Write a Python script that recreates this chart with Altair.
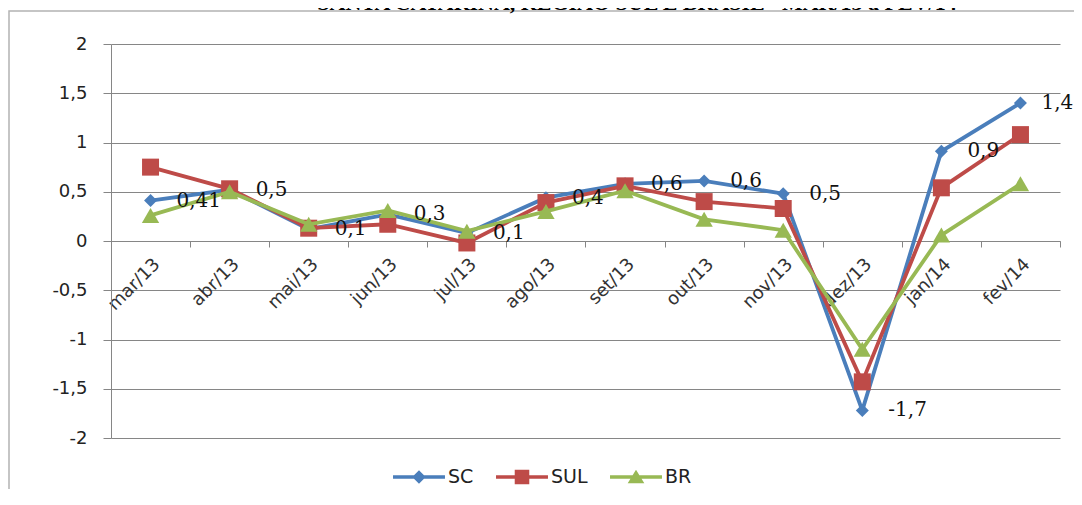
import altair as alt
import pandas as pd

MONTHS = ["mar/13", "abr/13", "mai/13", "jun/13", "jul/13", "ago/13",
          "set/13", "out/13", "nov/13", "dez/13", "jan/14", "fev/14"]
SC = [0.41, 0.52, 0.12, 0.27, 0.08, 0.44, 0.58, 0.61, 0.48, -1.72, 0.91, 1.40]
SUL = [0.75, 0.53, 0.13, 0.17, -0.02, 0.39, 0.56, 0.40, 0.33, -1.43, 0.54, 1.08]
BR = [0.26, 0.50, 0.17, 0.31, 0.10, 0.30, 0.51, 0.22, 0.11, -1.10, 0.06, 0.58]
SC_LABELS = ["0,41", "0,5", "0,1", "0,3", "0,1", "0,4", "0,6", "0,6", "0,5", "-1,7", "0,9", "1,4"]
SERIES = ["SC", "SUL", "BR"]
COLORS = ["#4a7ebb", "#be4b48", "#98b954"]
Y_TICKS = [-2, -1.5, -1, -0.5, 0, 0.5, 1, 1.5, 2]
TITLE = "SANTA CATARINA, REGIÃO SUL E BRASIL - MAR/13 a FEV/14"

rows = []
for name, vals in zip(SERIES, [SC, SUL, BR]):
    for i, (m, v) in enumerate(zip(MONTHS, vals)):
        rows.append({"mes": m, "serie": name, "valor": v,
                     "rotulo": SC_LABELS[i] if name == "SC" else ""})
df = pd.DataFrame(rows)

W, H = 949, 394
GRID = "#868686"

x_enc = alt.X("mes:N", sort=MONTHS,
              scale=alt.Scale(type="band", domain=MONTHS, paddingInner=0, paddingOuter=0),
              axis=alt.Axis(title=None, orient="bottom", offset=-197, labelAngle=-45,
                            tickBand="extent", ticks=True, tickSize=6, tickColor=GRID,
                            domainColor=GRID, grid=False, labelFont="DejaVu Sans",
                            labelFontSize=18, labelColor="#333333", labelPadding=8))
y_enc = alt.Y("valor:Q", scale=alt.Scale(domain=[-2, 2], nice=False, zero=False),
              axis=alt.Axis(title=None, values=Y_TICKS,
                            labelExpr="replace(toString(datum.value), '.', ',')",
                            grid=True, gridColor=GRID, gridWidth=1, domainColor=GRID,
                            tickColor=GRID, tickSize=8, labelPadding=16,
                            labelFont="DejaVu Sans", labelFontSize=18, labelColor="#222222"))

one = alt.Data(values=[{"a": 1}])
frame = alt.Chart(one).mark_rect(fillOpacity=0, stroke="#b3b3b3", strokeWidth=1.5).encode(
    x=alt.value(-102), x2=alt.value(1000), y=alt.value(-33), y2=alt.value(500))
title = alt.Chart(one).mark_text(text=TITLE, font="Liberation Serif", fontSize=22,
                                 fontWeight="bold", align="center", baseline="alphabetic",
                                 color="#000000").encode(x=alt.value(526), y=alt.value(-34))

SHAPES = ["diamond", "square", "triangle-up"]
SIZES = [169, 289, 300]
layers = [frame, title]
for s, c, sh, sz in zip(SERIES, COLORS, SHAPES, SIZES):
    base = alt.Chart(df).transform_filter(alt.datum.serie == s)
    layers.append(base.mark_line(color=c, strokeWidth=3.8).encode(x=x_enc, y=y_enc))
    layers.append(base.mark_point(shape=sh, filled=True, color=c, size=sz, opacity=1)
                  .encode(x=x_enc, y=y_enc))

sc_df = alt.Chart(df).transform_filter(alt.datum.serie == "SC")
labels = sc_df.transform_filter(alt.datum.mes != MONTHS[-1]).mark_text(
    align="left", baseline="middle", dx=26, font="DejaVu Serif", fontSize=20,
    color="#111111").encode(x=x_enc, y=y_enc, text="rotulo:N")
label_last = sc_df.transform_filter(alt.datum.mes == MONTHS[-1]).mark_text(
    align="left", baseline="middle", dx=21, font="DejaVu Serif", fontSize=20,
    color="#111111").encode(x=x_enc, y=y_enc, text="rotulo:N")
layers += [labels, label_last]

LEGEND_PATHS = [
    "M-1,-0.07H1V0.07H-1Z M0,-0.26L0.26,0L0,0.26L-0.26,0Z",
    "M-1,-0.07H1V0.07H-1Z M-0.28,-0.28H0.28V0.28H-0.28Z",
    "M-1,-0.07H1V0.07H-1Z M0,-0.28L0.32,0.24H-0.32Z",
]
leg_props = dict(title=None, orient="none", legendX=282, legendY=407, direction="horizontal",
                 symbolSize=2700, symbolStrokeWidth=0, labelFont="DejaVu Sans",
                 labelFontSize=19, labelColor="#222222", labelOffset=3, columnPadding=22)
legend_layer = alt.Chart(pd.DataFrame({"serie": SERIES})).transform_filter("false").mark_point(
    filled=True, opacity=1).encode(
    color=alt.Color("serie:N", scale=alt.Scale(domain=SERIES, range=COLORS),
                    legend=alt.Legend(**leg_props)),
    shape=alt.Shape("serie:N", scale=alt.Scale(domain=SERIES, range=LEGEND_PATHS),
                    legend=alt.Legend(**leg_props)))
layers.append(legend_layer)

chart = alt.layer(*layers).properties(
    width=W, height=H,
    padding={"left": 103, "top": 36, "right": 14, "bottom": 51},
    autosize=alt.AutoSizeParams(type="none"),
    background="white",
).configure_view(stroke=None)

chart.save("out.html", embed_options={"renderer": "svg", "actions": False})
